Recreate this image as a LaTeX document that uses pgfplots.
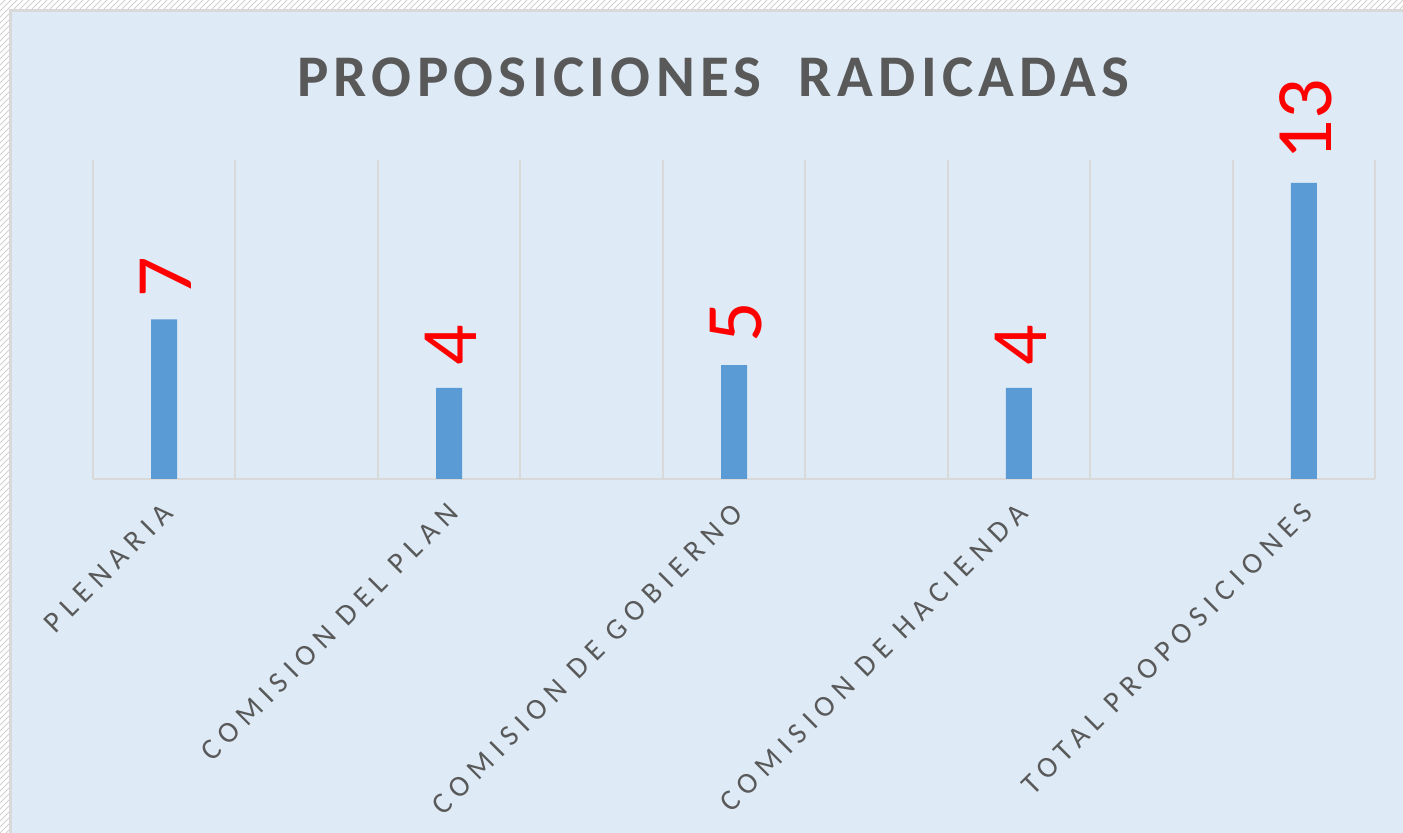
\documentclass[border=0pt]{standalone}
\usepackage{pgfplots}
\pgfplotsset{compat=1.18}
\usepackage{fontspec}
\setmainfont{Carlito}
\usetikzlibrary{patterns}
\newfontfamily\titlefont[LetterSpace=9]{Carlito}
\newfontfamily\tickfont[LetterSpace=24]{Carlito}
\definecolor{bgblue}{HTML}{DEEBF7}
\definecolor{barblue}{HTML}{5B9BD5}
\definecolor{gridgray}{HTML}{D9D9D9}
\definecolor{txtgray}{HTML}{595959}
\begin{document}
\begin{tikzpicture}
\useasboundingbox (0,0) rectangle (701.5pt,416.5pt);
\fill[white] (0,0) rectangle (701.5pt,416.5pt);
\fill[pattern=north east lines, pattern color=gray!35] (0,0) rectangle (701.5pt,416.5pt);
\filldraw[fill=bgblue, draw=gridgray, line width=1.5pt] (5.25pt,-20pt) rectangle (730pt,411.25pt);
\node[anchor=base, text=txtgray, inner sep=0pt, font=\titlefont\bfseries\fontsize{29.5}{30}\selectfont] at (356.75pt,368pt) {PROPOSICIONES\ \ RADICADAS};
\begin{axis}[
  at={(46.5pt,177pt)}, anchor=south west,
  scale only axis, width=641pt, height=159.5pt,
  xmin=0, xmax=9, ymin=0, ymax=14,
  clip=false,
  /pgf/number format/assume math mode=true,
  axis x line*=bottom, axis y line=none,
  x axis line style={draw=gridgray, line width=1pt, -},
  xtick={0.5,2.5,4.5,6.5,8.5},
  xticklabels={PLENARIA, COMISION DEL PLAN, COMISION DE GOBIERNO, COMISION DE HACIENDA, TOTAL PROPOSICIONES},
  major tick length=0pt,
  minor xtick={0,1,2,3,4,5,6,7,8,9},
  minor tick length=0pt,
  xminorgrids=true,
  minor grid style={draw=gridgray, line width=1pt},
  xticklabel style={xshift=-1.5pt, yshift=-11pt, rotate=45, anchor=north east, inner sep=0pt, text=txtgray, font=\tickfont\fontsize{14.8}{15}\selectfont},
  ybar, bar width=13pt,
  nodes near coords,
  nodes near coords style={font=\fontsize{40}{40}\selectfont, text=red, rotate=90, anchor=west, inner xsep=11pt, inner ysep=0pt, yshift=-1pt},
]
\addplot[ybar, fill=barblue, draw=none] coordinates {(0.5,7) (2.5,4) (4.5,5) (6.5,4) (8.5,13)};
\end{axis}
\end{tikzpicture}
\end{document}
